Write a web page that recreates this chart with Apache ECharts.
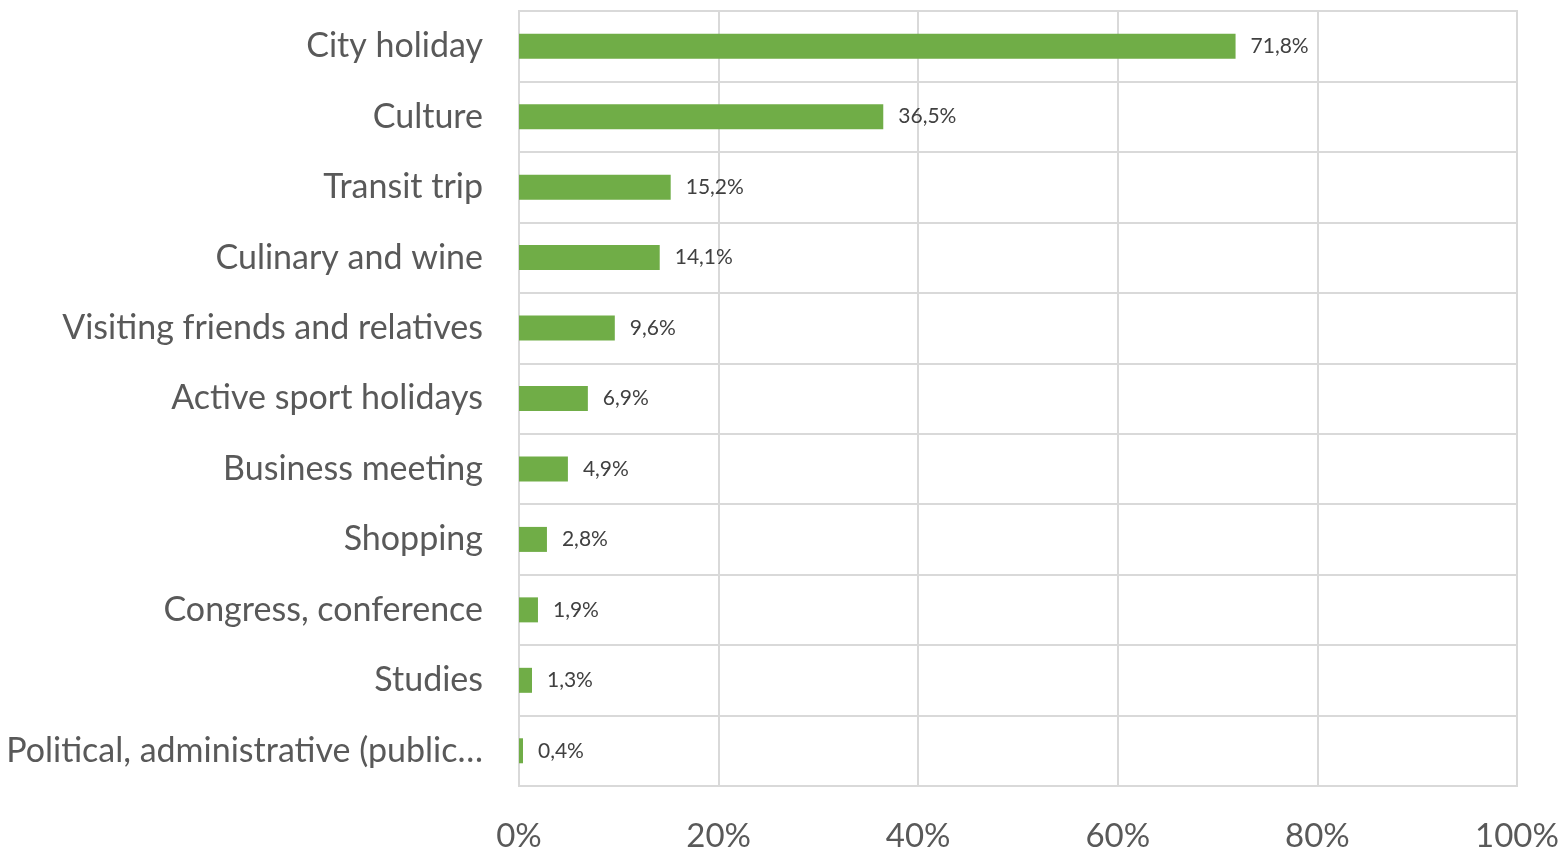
<!DOCTYPE html>
<html>
<head>
<meta charset="utf-8">
<script src="https://cdn.jsdelivr.net/npm/echarts@6/dist/echarts.min.js"></script>
<style>
  html, body { margin: 0; padding: 0; background: #ffffff; }
  #chart { width: 1565px; height: 850px; }
</style>
</head>
<body>
<div id="chart"></div>
<script>
// Travel purpose categories, listed top to bottom
const categories = [
  'City holiday',
  'Culture',
  'Transit trip',
  'Culinary and wine',
  'Visiting friends and relatives',
  'Active sport holidays',
  'Business meeting',
  'Shopping',
  'Congress, conference',
  'Studies',
  'Political, administrative (public…'
];

// Share of respondents, percent
const shares = [71.8, 36.5, 15.2, 14.1, 9.6, 6.9, 4.9, 2.8, 1.9, 1.3, 0.4];

// Value axis ticks, percent
const axisMin = 0;
const axisMax = 100;
const axisStep = 20;

const font = 'Lato, "Open Sans", sans-serif';

const chart = echarts.init(document.getElementById('chart'), null, { renderer: 'canvas' });

chart.setOption({
  backgroundColor: '#ffffff',
  animation: false,
  grid: {
    left: 519,
    right: 48,
    top: 11,
    bottom: 64,
    containLabel: false,
    outerBoundsMode: 'none',
    show: true,
    borderColor: '#d9d9d9',
    borderWidth: 2
  },
  xAxis: {
    type: 'value',
    min: axisMin,
    max: axisMax,
    interval: axisStep,
    axisLine: { show: false },
    axisTick: { show: false },
    splitLine: { show: true, lineStyle: { color: '#d9d9d9', width: 2 } },
    axisLabel: {
      margin: 34,
      fontFamily: font,
      fontSize: 33,
      color: '#595959',
      formatter: v => v + '%'
    }
  },
  yAxis: {
    type: 'category',
    data: categories,
    inverse: true,
    axisLine: { show: true, lineStyle: { color: '#d9d9d9', width: 2 } },
    axisTick: { show: false },
    splitLine: { show: true, lineStyle: { color: '#d9d9d9', width: 2 } },
    axisLabel: {
      margin: 36,
      fontFamily: font,
      fontSize: 34,
      color: '#595959'
    }
  },
  series: [{
    type: 'bar',
    data: shares,
    barWidth: 25,
    itemStyle: { color: '#70ad47' },
    label: {
      show: true,
      position: 'right',
      distance: 15,
      fontFamily: font,
      fontSize: 21,
      color: '#404040',
      formatter: p => p.value.toFixed(1).replace('.', ',') + '%'
    }
  }]
});
</script>
</body>
</html>
